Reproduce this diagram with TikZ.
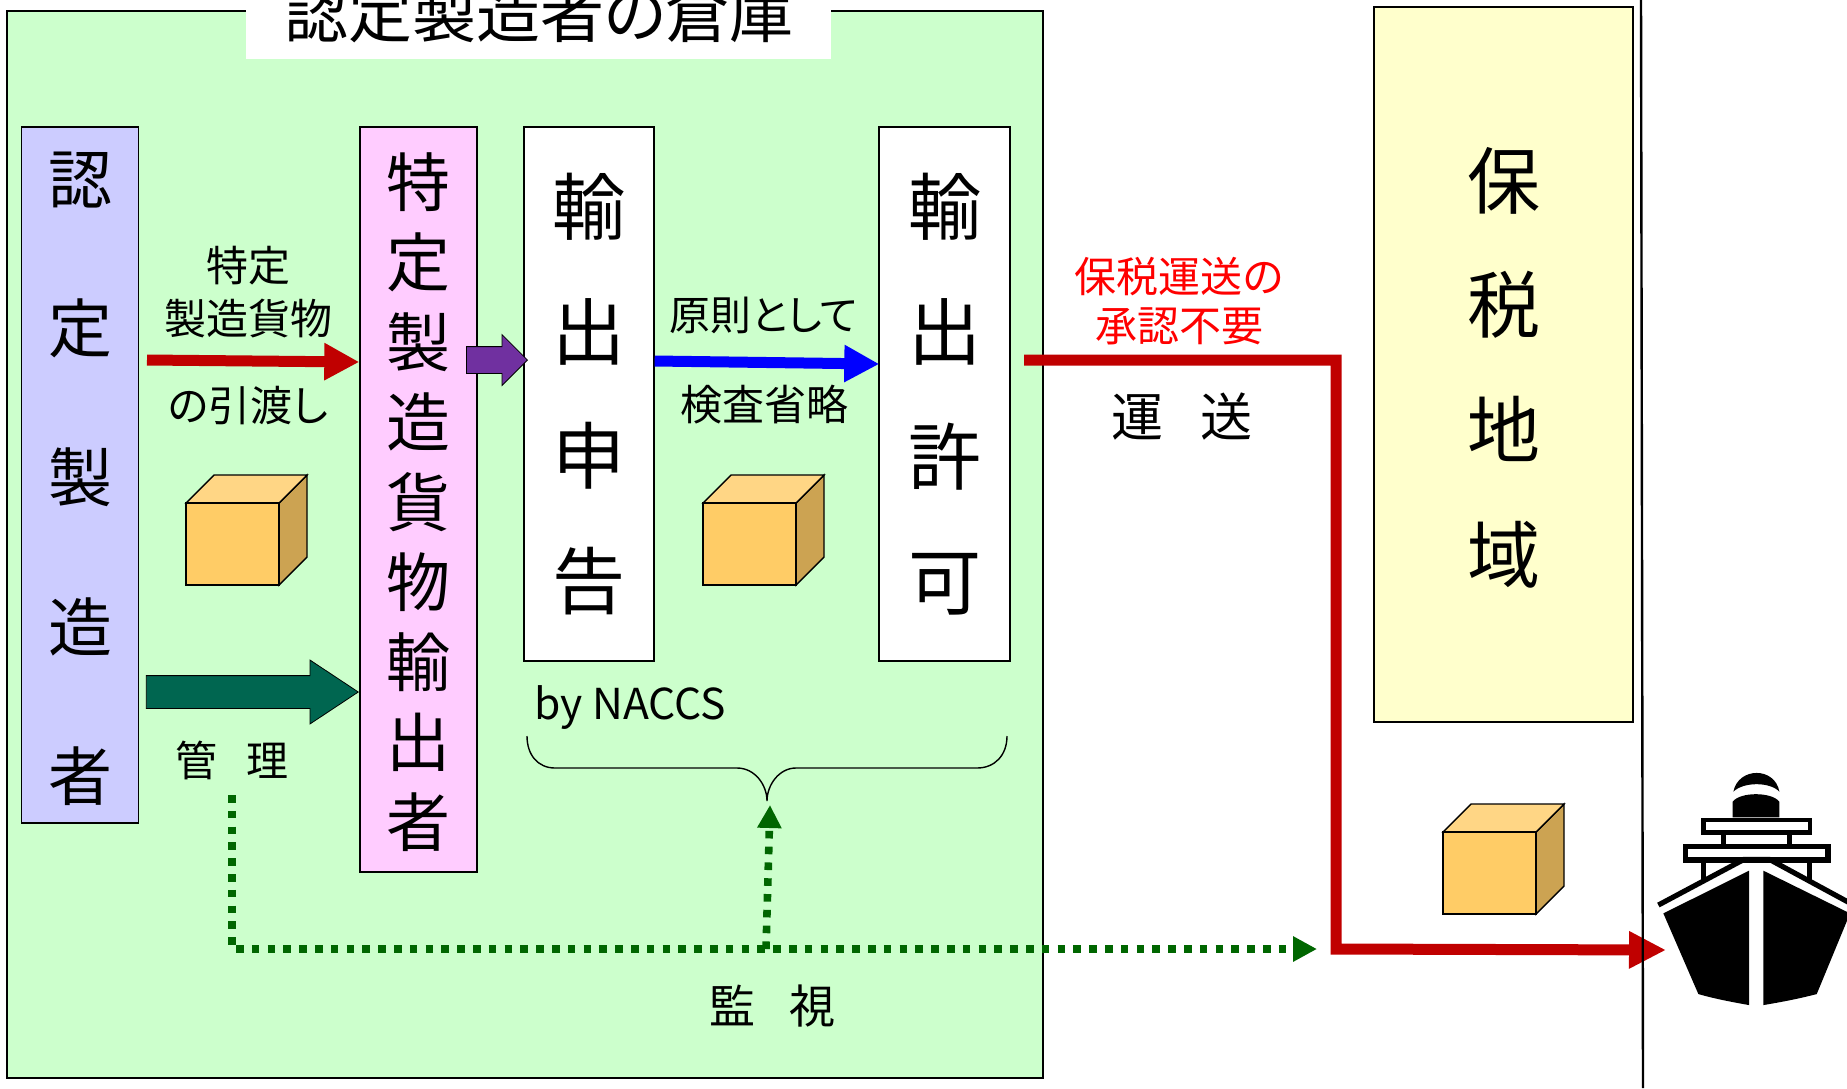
\documentclass[tikz,border=0pt]{standalone}
\usepackage{fontspec}
\setmainfont[RawFeature={+palt}]{Noto Sans CJK JP}
\usetikzlibrary{arrows.meta,shapes.arrows}
\newcommand{\stacktop}{\rule{0pt}{.92em}}
\tikzset{
  stackbox/.style={draw=black, line width=.7pt, inner sep=0pt, align=center},
  smalltxt/.style={inner sep=0pt, align=center, font=\fontsize{21}{26.2}\selectfont},
  blockarrow/.style={single arrow, draw=black, line width=.4pt, inner sep=0pt, text width=0pt, text depth=0pt, single arrow head indent=0pt, anchor=tip},
  flowline/.style={line width=5.5pt},
  watchline/.style={draw=watchgreen, line width=3.8pt, dash pattern=on 3.8pt off 4.1pt},
  crate/.pic={
    \draw[line width=.7pt, fill=crateside] (93,0) -- (121,-28) -- (121,-110) -- (93,-82) -- cycle;
    \draw[line width=.7pt, fill=cratetop] (0,-82) -- (28,-110) -- (121,-110) -- (93,-82) -- cycle;
    \draw[line width=.7pt, fill=cratefront] (0,0) rectangle (93,-82);
  }
}
\definecolor{yardgreen}{HTML}{CCFFCC}
\definecolor{makerblue}{HTML}{CCCCFF}
\definecolor{exporterpink}{HTML}{FFCCFF}
\definecolor{bondedyellow}{HTML}{FFFFCC}
\definecolor{cratefront}{HTML}{FFCC66}
\definecolor{cratetop}{HTML}{FFD685}
\definecolor{crateside}{HTML}{CCA352}
\definecolor{flowred}{HTML}{C00000}
\definecolor{watchgreen}{HTML}{006600}
\definecolor{managegreen}{HTML}{006650}
\definecolor{exportpurple}{HTML}{7030A0}
\begin{document}
\begin{tikzpicture}[x=.5pt, y=-.5pt]
  \useasboundingbox (0,0) rectangle (1847,1088);

  \draw[line width=.8pt, fill=yardgreen] (7,11) rectangle (1043,1078);
  \fill[white] (246,0) rectangle (831,59);
  \node[inner sep=0pt, font=\fontsize{32}{36}\selectfont] (yardtitle) at (539,13) {認定製造者の倉庫};

  \node[stackbox, fill=makerblue, minimum width=58.75pt, minimum height=348pt, font=\fontsize{32}{74.6}\selectfont] (maker) at (80,475) {\stacktop 認\\定\\製\\造\\者};
  \node[stackbox, fill=exporterpink, minimum width=58.5pt, minimum height=372.5pt, font=\fontsize{32}{40}\selectfont] (exporter) at (418.5,499.5) {\stacktop 特\\定\\製\\造\\貨\\物\\輸\\出\\者};
  \node[stackbox, fill=white, minimum width=65pt, minimum height=267pt, font=\fontsize{36.5}{62.4}\selectfont] (declare) at (589,394) {輸\\出\\申\\告};
  \node[stackbox, fill=white, minimum width=65.5pt, minimum height=267pt, font=\fontsize{36.5}{62.4}\selectfont] (permit) at (944.5,394) {輸\\出\\許\\可};
  \node[stackbox, fill=bondedyellow, minimum width=129.5pt, minimum height=357.5pt, font=\fontsize{36.5}{62.3}\selectfont] (bonded) at (1503.5,364.5) {\stacktop 保\\税\\地\\域};

  \coordinate (handstart) at (147,360);
  \coordinate (handend) at (exporter.west |- 0,362);
  \draw[flowred, flowline, -{Triangle[length=17.5pt,width=17.5pt]}] (handstart) -- (handend);
  \node[blockarrow, fill=exportpurple, text height=13pt, minimum height=30.5pt, minimum width=25pt, single arrow head extend=6pt] (submit) at (528,360) {};
  \node[blockarrow, fill=managegreen, text height=16pt, minimum height=106pt, minimum width=31.5pt, single arrow head extend=7.75pt, single arrow tip angle=67] (manage) at (359,692) {};
  \coordinate (skipstart) at (declare.east |- 0,361);
  \coordinate (skipend) at (permit.west |- 0,364);
  \draw[blue, flowline, -{Triangle[length=17.5pt,width=17.5pt]}] (skipstart) -- ([xshift=.5pt]skipend);

  \node[smalltxt] (handtop) at (248,292) {特定\\製造貨物};
  \node[smalltxt] (handlow) at (248,406) {の引渡し};
  \node[smalltxt, font=\fontsize{20.4}{25}\selectfont] (skiptop) at (764,315) {原則として};
  \node[smalltxt] (skiplow) at (764,405) {検査省略};
  \node[smalltxt, font=\fontsize{21}{24.5}\selectfont, text=red] (noneed) at (1179,301) {保税運送の\\承認不要};
  \node[smalltxt, font=\fontsize{26}{30}\selectfont] (haul) at (1182,417) {運\hspace{18.5pt}送};
  \node[smalltxt] (managetxt) at (232,760) {管\hspace{15pt}理};
  \node[smalltxt, font=\fontsize{23}{27}\selectfont] (watchtxt) at (772,1006) {監\hspace{17pt}視};
  \node[smalltxt, font=\fontsize{21.3}{25}\selectfont] (naccs) at (630,708) {by NACCS};

  \foreach \cx/\cy in {186/585, 703/585, 1443/914}
    \pic at (\cx,\cy) {crate};

  \draw[line width=.7pt] (527,736) .. controls (527,755) and (538,768) .. (555,768) -- (737,768) .. controls (755,768) and (767,785) .. (767,801) .. controls (767,785) and (779,768) .. (796,768) -- (977,768) .. controls (995,768) and (1007,755) .. (1007,736);

  \coordinate (watchstart) at (232,795);
  \coordinate (watchend) at (1317,949);
  \coordinate (watchfork) at (766,949);
  \coordinate (bracetip) at (770,805);
  \draw[watchline, -{Triangle[length=12pt,width=12pt]}] (watchstart) |- (watchend);
  \draw[watchline, -{Triangle[length=11.5pt,width=11.5pt]}] (watchfork) -- (bracetip);

  \coordinate (runstart) at (1024,360);
  \coordinate (runend) at (1666,950);
  \draw[flowred, flowline, -{Triangle[length=18.5pt,width=17.5pt]}] (runstart) -- (1336,360) -- (1336,949) -- (runend);

  \draw[line width=1.2pt] (1641,0) -- (1643,1088);

  \begin{scope}[shift={(1600,740)}, x=.1667pt, y=-.1667pt]
    \fill (190,520) -- (447,392) -- (447,795) .. controls (390,785) and (340,775) .. (295,762) -- cycle;
    \fill (750,520) -- (490,392) -- (490,795) .. controls (550,785) and (600,775) .. (650,762) -- cycle;
    \draw[line width=2.6pt] (175,495) -- (432,358) -- (508,358) -- (770,500);
    \draw[line width=2.6pt] (256,320) rectangle (684,360);
    \draw[line width=2.4pt] (310,360) -- (310,420);
    \draw[line width=2.4pt] (628,360) -- (628,420);
    \draw[line width=2.4pt] (310,277) rectangle (630,240);
    \draw[line width=2.2pt] (370,277) -- (370,312);
    \draw[line width=2.2pt] (568,277) -- (568,312);
    \fill (398,232) -- (398,185) .. controls (420,155) and (515,155) .. (538,185) -- (538,232) -- cycle;
    \fill (400,155) .. controls (415,80) and (525,80) .. (538,155) .. controls (510,125) and (430,125) .. (400,155) -- cycle;
  \end{scope}
\end{tikzpicture}
\end{document}
